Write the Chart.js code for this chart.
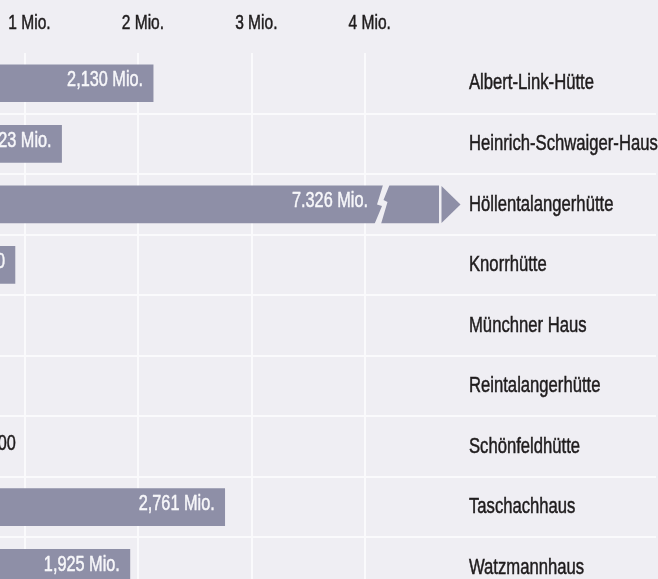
<!DOCTYPE html>
<html>
<head>
<meta charset="utf-8">
<script src="https://cdn.jsdelivr.net/npm/chart.js@4"></script>
<style>
html,body{margin:0;padding:0;width:658px;height:579px;overflow:hidden;background:#efeef3;}
#wrap{position:absolute;left:-100px;top:0;width:758px;height:598px;}
canvas{display:block;}
</style>
</head>
<body>
<div id="wrap"><canvas id="c" width="758" height="598" style="width:758px;height:598px"></canvas></div>
<script>
const categories = ['Albert-Link-Hütte','Heinrich-Schwaiger-Haus','Höllentalangerhütte','Knorrhütte','Münchner Haus','Reintalangerhütte','Schönfeldhütte','Taschachhaus','Watzmannhaus'];
const values = [2130000, 1323000, 7326000, 912000, 100000, 90000, 330000, 2761000, 1925000];
const valueLabels = ['2,130 Mio.','1,323 Mio.','7.326 Mio.','912.000','100.000','90.000','330.000','2,761 Mio.','1,925 Mio.'];
const tickValues = [0, 1000000, 2000000, 3000000, 4000000];
const tickLabels = ['0', '1 Mio.', '2 Mio.', '3 Mio.', '4 Mio.'];
const axisMax = 4650000;

const FONT = '"Liberation Sans", Arial, sans-serif';
const CONDENSE = 0.74;
const BG = '#efeef3';
const BAR = '#8e8fa7';
const GRID = '#fafafc';
const TEXT = '#1e1b1c';
const INNER = '#f7f7fa';

// condensed text rendering (horizontal squeeze, like the original's condensed typeface)
const canvas = document.getElementById('c');
const c2d = canvas.getContext('2d');
const nativeFill = c2d.fillText;
const nativeStroke = c2d.strokeText;
function squeezed(ctx, text, maxWidth) {
  const w = ctx.measureText(text).width * CONDENSE;
  return maxWidth !== undefined ? Math.min(maxWidth, w) : w;
}
c2d.fillText = function (text, x, y, maxWidth) {
  return nativeFill.call(this, text, x, y, squeezed(this, text, maxWidth));
};
c2d.strokeText = function (text, x, y, maxWidth) {
  return nativeStroke.call(this, text, x, y, squeezed(this, text, maxWidth));
};

const deco = {
  id: 'deco',
  afterDatasetsDraw(chart) {
    const ctx = chart.ctx, meta = chart.getDatasetMeta(0), area = chart.chartArea;
    ctx.save();
    ctx.font = '22px ' + FONT;
    ctx.textBaseline = 'middle';
    ctx.lineWidth = 0.5;
    ctx.lineJoin = 'round';
    const label = (txt, x, y, color, align) => {
      ctx.fillStyle = color; ctx.strokeStyle = color; ctx.textAlign = align;
      ctx.fillText(txt, x, y);
      ctx.strokeText(txt, x, y);
    };
    meta.data.forEach((bar, i) => {
      const v = values[i], txt = valueLabels[i];
      const top = bar.y - bar.height / 2, bottom = bar.y + bar.height / 2;
      if (v > axisMax) {
        const r = area.right;
        // break mark
        ctx.fillStyle = BG;
        ctx.beginPath();
        ctx.moveTo(r - 56, top - 1);
        ctx.lineTo(r - 49.5, top - 1);
        ctx.lineTo(r - 55.5, bar.y - 4.5);
        ctx.lineTo(r - 51.5, bar.y - 2.5);
        ctx.lineTo(r - 58, bottom + 1);
        ctx.lineTo(r - 64.5, bottom + 1);
        ctx.lineTo(r - 57, bar.y + 1.5);
        ctx.lineTo(r - 62, bar.y);
        ctx.closePath();
        ctx.fill();
        // arrow
        ctx.fillStyle = BAR;
        ctx.beginPath();
        ctx.moveTo(r + 2.5, top);
        ctx.lineTo(r + 21.5, bar.y);
        ctx.lineTo(r + 2.5, bottom);
        ctx.closePath();
        ctx.fill();
        label(txt, r - 71, bar.y - 3, INNER, 'right');
      } else {
        const w = ctx.measureText(txt).width * CONDENSE;
        if (bar.x - bar.base > w + 20) {
          label(txt, bar.x - 10, bar.y - 3, INNER, 'right');
        } else {
          label(txt, bar.x + 8, bar.y - 3, TEXT, 'left');
        }
      }
    });
    ctx.restore();
  }
};

new Chart(canvas, {
  type: 'bar',
  data: {
    labels: categories,
    datasets: [{
      data: values,
      backgroundColor: BAR,
      borderWidth: 0,
      barThickness: 37
    }]
  },
  options: {
    indexAxis: 'y',
    responsive: false,
    animation: false,
    layout: { padding: { left: 11.5, top: 0, right: 0, bottom: 0 } },
    plugins: { legend: { display: false }, tooltip: { enabled: false } },
    scales: {
      x: {
        position: 'top',
        min: 0,
        max: axisMax,
        afterBuildTicks: s => { s.ticks = tickValues.map(v => ({ value: v })); },
        grid: { color: GRID, lineWidth: 2, drawTicks: false },
        border: { display: false },
        ticks: {
          padding: 17,
          labelOffset: 4.5,
          color: TEXT,
          textStrokeColor: TEXT,
          textStrokeWidth: 0.5,
          maxRotation: 0,
          autoSkip: false,
          font: { family: FONT, size: 21 },
          callback: v => tickLabels[tickValues.indexOf(v)]
        },
        afterFit: s => { s.height = 53; s.paddingLeft = 0; s.paddingRight = 0; }
      },
      y: {
        position: 'right',
        grid: {
          offset: true,
          color: c => c.index === 0 ? 'rgba(0,0,0,0)' : GRID,
          lineWidth: 2,
          drawTicks: true,
          tickLength: 217
        },
        border: { display: false },
        ticks: {
          crossAlign: 'near',
          padding: -187,
          color: TEXT,
          textStrokeColor: TEXT,
          textStrokeWidth: 0.5,
          autoSkip: false,
          font: { family: FONT, size: 22.5 }
        },
        afterFit: s => { s.width = 219; s.paddingTop = 0; s.paddingBottom = 0; }
      }
    }
  },
  plugins: [deco]
});
</script>
</body>
</html>
